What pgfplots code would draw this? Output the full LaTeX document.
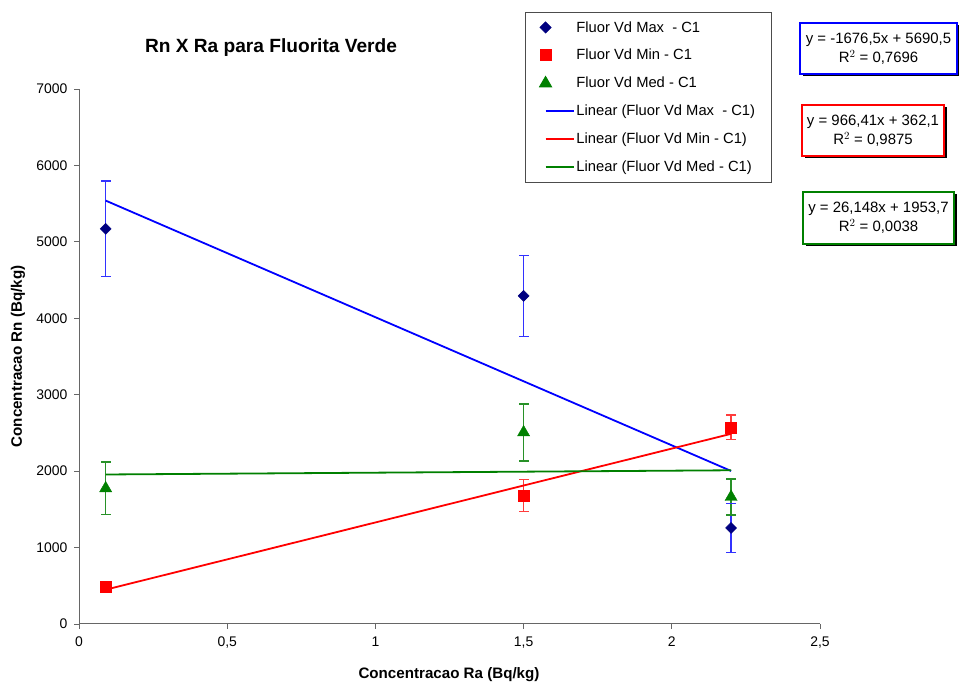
\documentclass[border=0pt]{standalone}
\usepackage{pgfplots}
\pgfplotsset{compat=1.18}
\usepackage{fontspec}
\setmainfont{Liberation Sans}
\usetikzlibrary{shadows}
\definecolor{navyc}{RGB}{0,0,128}
\definecolor{grn}{RGB}{0,128,0}
\definecolor{eblue}{RGB}{50,50,255}
\definecolor{ered}{RGB}{255,60,60}
\definecolor{egreen}{RGB}{40,145,40}
\begin{document}
\begin{tikzpicture}[x=1bp,y=1bp]
\path (0,0) rectangle (959,683);
\begin{axis}[
  at={(79bp,59bp)}, anchor=south west,
  scale only axis, width=741bp, height=535bp,
  xmin=0, xmax=2.5, ymin=0, ymax=7000,
  xtick={0,0.5,...,2.5}, ytick={0,1000,...,7000},
  axis x line=bottom, axis y line=left,
  axis line style={-, draw=black!60, line width=1bp},
  tick style={draw=black!60, line width=0.8bp},
  tick align=outside, major tick length=5bp,
  /pgf/number format/assume math mode=true,
  /pgf/number format/use comma,
  /pgf/number format/1000 sep={},
  ticklabel style={font=\fontsize{14}{16}\selectfont},
  xticklabel style={yshift=-4bp},
  yticklabel style={xshift=-3bp},
  legend style={at={(0.602,1.144)}, anchor=north west, draw=black!70, line width=0.8bp,
    font=\fontsize{14.8}{17}\selectfont, inner xsep=14bp, inner ysep=7bp, row sep=11.8bp,
    /tikz/every even column/.append style={column sep=0bp}},
  legend cell align=left,
  unbounded coords=jump,
  clip=false,
]
\pgfplotsset{
  linelegend/.style={legend image code/.code={\draw[##1] (0bp,0bp) -- (28bp,0bp);}},
  marklegend/.style={legend image code/.code={\path[draw=none] (-1bp,0bp) -- (28bp,0bp); \draw[##1,only marks] plot coordinates {(0bp,0bp)};}},
  ebars/.style={forget plot, draw=#1, line width=1.3bp, mark=-, mark size=5bp,
    mark options={draw=#1, line width=1.3bp, solid}},
}
% error bars (value - error, value + error)
\addplot[ebars=eblue] coordinates {(0.09,4545) (0.09,5795) (1,nan) (1.5,3763) (1.5,4823) (1,nan) (2.2,937) (2.2,1577)};
\addplot[ebars=ered] coordinates {(0.09,461) (0.09,521) (1,nan) (1.5,1475) (1.5,1895) (1,nan) (2.2,2413) (2.2,2733)};
\addplot[ebars=egreen] coordinates {(0.09,1430) (0.09,2120) (1,nan) (1.5,2134) (1.5,2880) (1,nan) (2.2,1426) (2.2,1898)};
% Max
\addplot[only marks, marklegend, color=navyc,
  mark=square*, mark size=3.9bp, mark options={rotate=45}]
  coordinates {(0.09,5170) (1.5,4293) (2.2,1257)};
\addlegendentry{Fluor Vd Max\ \ - C1}
% Min
\addplot[only marks, marklegend, color=red, mark=square*, mark size=5.5bp]
  coordinates {(0.09,491) (1.5,1685) (2.2,2573)};
\addlegendentry{Fluor Vd Min - C1}
% Med
\addplot[only marks, marklegend, color=grn, mark=triangle*, mark size=7bp]
  coordinates {(0.09,1775) (1.5,2507) (2.2,1662)};
\addlegendentry{Fluor Vd Med - C1}
% Trend lines
\addplot[linelegend, color=blue, line width=1.8bp, no marks] coordinates {(0.09,5539.6) (2.2,2002.2)};
\addlegendentry{Linear (Fluor Vd Max\ \ - C1)}
\addplot[linelegend, color=red, line width=1.8bp, no marks] coordinates {(0.09,449.1) (2.2,2488.2)};
\addlegendentry{Linear (Fluor Vd Min - C1)}
\addplot[linelegend, color=grn, line width=1.8bp, no marks] coordinates {(0.09,1956.1) (2.2,2011.2)};
\addlegendentry{Linear (Fluor Vd Med - C1)}
\end{axis}
% Title and axis labels
\node[font=\fontsize{19.2}{22}\selectfont\bfseries] at (271,635) {Rn X Ra para Fluorita Verde};
\node[font=\fontsize{15.2}{17}\selectfont\bfseries] at (449,8) {Concentracao Ra (Bq/kg)};
\node[font=\fontsize{15.2}{17}\selectfont\bfseries, rotate=90] at (18,326.5) {Concentracao Rn (Bq/kg)};
% Equation boxes
\tikzset{eqbox/.style={draw=#1, line width=2bp, fill=white, align=center, inner sep=0pt,
  font=\fontsize{15}{19.5}\selectfont,
  drop shadow={shadow xshift=2.5bp, shadow yshift=-2.5bp, fill=black, opacity=1}}}
\node[eqbox=blue, minimum width=157bp, minimum height=51bp] at (878.5,634.5) {y = -1676,5x + 5690,5\\R$^2$ = 0,7696};
\node[eqbox=red, minimum width=142bp, minimum height=51bp] at (873,552.5) {y = 966,41x + 362,1\\R$^2$ = 0,9875};
\node[eqbox=grn, minimum width=151bp, minimum height=52bp] at (878.5,465) {y = 26,148x + 1953,7\\R$^2$ = 0,0038};
\end{tikzpicture}
\end{document}
